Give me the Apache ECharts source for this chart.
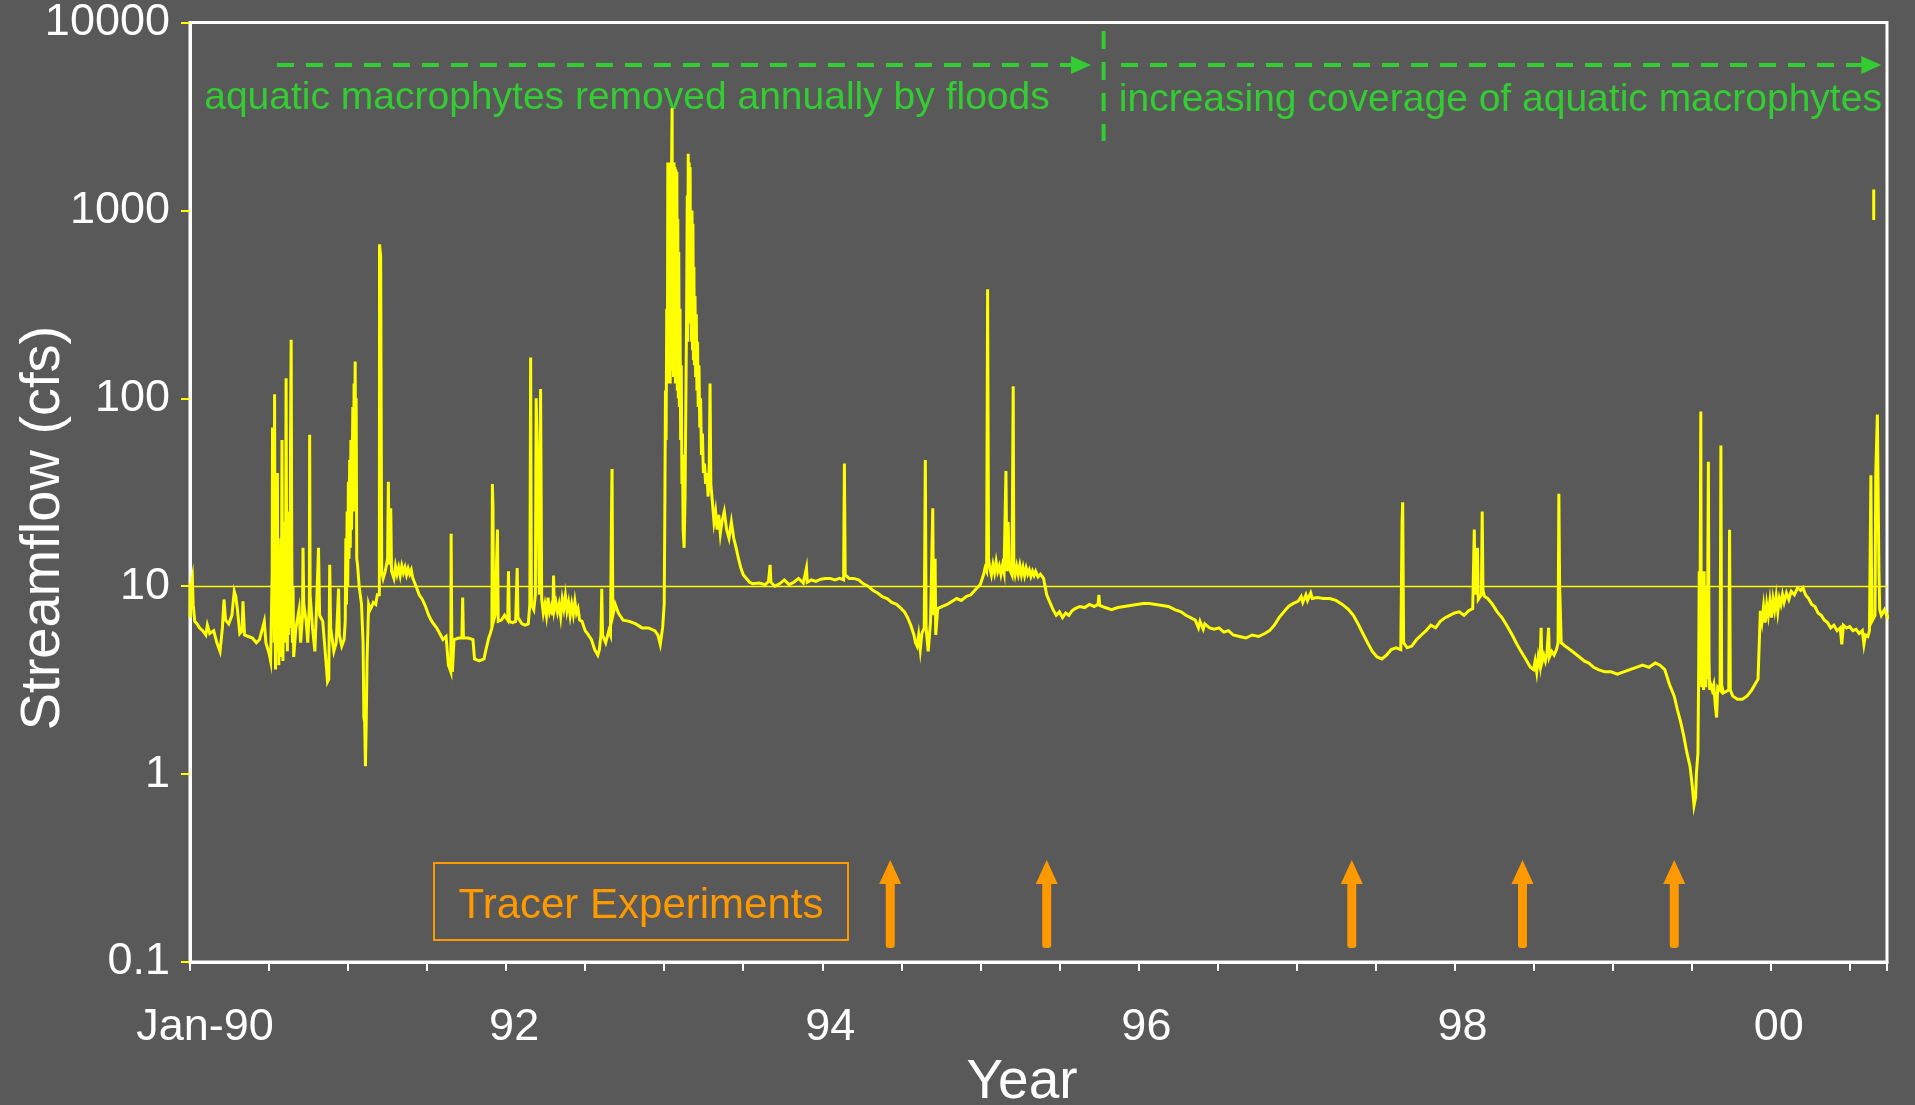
<!DOCTYPE html>
<html>
<head>
<meta charset="utf-8">
<title>Streamflow 1990-2000</title>
<script src="https://cdn.jsdelivr.net/npm/echarts@6/dist/echarts.min.js"></script>
<style>
  html, body { margin: 0; padding: 0; background: #595959; }
  #chart { width: 1915px; height: 1105px; }
</style>
</head>
<body>
<div id="chart"></div>
<script>
// Daily streamflow (cfs) as [decimal year, value]
const streamflow = [
  [1990.000, 6.8], [1990.003, 10.2], [1990.010, 10.5], [1990.015, 11.1], [1990.020, 8.0], [1990.030, 6.5],
  [1990.045, 6.3], [1990.060, 6.0], [1990.080, 5.8], [1990.100, 5.5], [1990.110, 6.2], [1990.125, 5.6],
  [1990.150, 5.8], [1990.170, 5.0], [1990.190, 4.5], [1990.200, 4.4], [1990.205, 6.0], [1990.215, 8.5],
  [1990.225, 6.6], [1990.245, 6.3], [1990.265, 7.0], [1990.280, 9.4], [1990.290, 8.8], [1990.300, 7.5],
  [1990.315, 5.6], [1990.330, 5.8], [1990.335, 8.3], [1990.345, 5.5], [1990.370, 5.4], [1990.395, 5.3],
  [1990.420, 5.0], [1990.440, 5.2], [1990.470, 6.5], [1990.480, 5.0], [1990.500, 4.4], [1990.510, 4.0],
  [1990.515, 4.0], [1990.520, 12], [1990.522, 70], [1990.525, 6], [1990.528, 15], [1990.530, 40],
  [1990.533, 5], [1990.535, 105], [1990.538, 8], [1990.541, 3.6], [1990.544, 14], [1990.547, 4.5],
  [1990.550, 20], [1990.553, 40], [1990.556, 5], [1990.559, 13], [1990.562, 3.8], [1990.566, 16],
  [1990.570, 4.2], [1990.574, 18], [1990.578, 5], [1990.582, 60], [1990.585, 8], [1990.588, 4.0],
  [1990.592, 15], [1990.596, 5.0], [1990.600, 22], [1990.604, 6], [1990.608, 128], [1990.612, 9],
  [1990.616, 4.5], [1990.620, 17], [1990.624, 5.5], [1990.628, 25], [1990.632, 6], [1990.636, 60],
  [1990.640, 205], [1990.644, 14], [1990.648, 5], [1990.652, 10], [1990.656, 4.2], [1990.670, 6.0],
  [1990.690, 7.5], [1990.700, 5.0], [1990.712, 7.0], [1990.715, 16], [1990.720, 8.0], [1990.735, 6.5],
  [1990.745, 5.0], [1990.755, 8], [1990.757, 64], [1990.760, 9], [1990.775, 6.0], [1990.790, 4.5],
  [1990.800, 7.5], [1990.813, 16], [1990.820, 7], [1990.840, 6.5], [1990.860, 4.0], [1990.870, 3.1],
  [1990.878, 3.2], [1990.884, 13], [1990.890, 6], [1990.910, 4.5], [1990.925, 5.0], [1990.940, 9.7],
  [1990.945, 5.5], [1990.960, 4.8], [1990.975, 5.2], [1990.982, 6.5], [1990.986, 18], [1990.990, 8],
  [1990.994, 25], [1990.998, 10], [1991.002, 36], [1991.006, 14], [1991.010, 47], [1991.014, 16],
  [1991.018, 60], [1991.022, 20], [1991.026, 40], [1991.030, 90], [1991.034, 25], [1991.038, 120],
  [1991.042, 50], [1991.045, 157], [1991.048, 30], [1991.051, 100], [1991.055, 14], [1991.060, 13],
  [1991.070, 10], [1991.085, 8], [1991.095, 5.0], [1991.100, 2.0], [1991.105, 1.9], [1991.110, 1.1],
  [1991.115, 1.9], [1991.120, 4.0], [1991.130, 8], [1991.140, 7.5], [1991.150, 7.8], [1991.160, 8.2],
  [1991.175, 8.0], [1991.185, 9.0], [1991.198, 9], [1991.199, 660], [1991.205, 660], [1991.206, 570],
  [1991.212, 570], [1991.213, 12], [1991.222, 11], [1991.235, 12], [1991.250, 14], [1991.255, 36],
  [1991.260, 13], [1991.270, 26], [1991.275, 12], [1991.290, 11], [1991.300, 12.8], [1991.310, 11.6],
  [1991.320, 12.6], [1991.330, 11.4], [1991.340, 12.8], [1991.350, 11.8], [1991.360, 12.6], [1991.370, 11.5],
  [1991.380, 12.4], [1991.390, 11.6], [1991.400, 12.2], [1991.410, 11.0], [1991.430, 10], [1991.450, 9],
  [1991.470, 8.5], [1991.490, 7.8], [1991.510, 7.0], [1991.530, 6.5], [1991.560, 6.0], [1991.580, 5.6],
  [1991.600, 5.2], [1991.620, 5.4], [1991.635, 3.8], [1991.645, 3.6], [1991.650, 3.5], [1991.652, 19],
  [1991.656, 5.5], [1991.660, 3.5], [1991.670, 5.2], [1991.700, 5.3], [1991.720, 5.3], [1991.725, 8.7],
  [1991.730, 5.3], [1991.760, 5.3], [1991.790, 5.2], [1991.800, 4.1], [1991.830, 4.0], [1991.860, 4.1],
  [1991.870, 4.5], [1991.890, 5.3], [1991.900, 5.6], [1991.910, 6.0], [1991.913, 35], [1991.917, 26],
  [1991.920, 6.5], [1991.930, 7.0], [1991.945, 20], [1991.950, 6.5], [1991.970, 6.6], [1991.990, 7.0],
  [1992.000, 7.0], [1992.010, 6.6], [1992.015, 12], [1992.020, 6.5], [1992.040, 6.4], [1992.060, 6.5],
  [1992.070, 12.5], [1992.075, 6.8], [1992.100, 6.3], [1992.120, 6.2], [1992.140, 6.3], [1992.150, 8],
  [1992.155, 165], [1992.160, 8], [1992.175, 7.5], [1992.185, 9], [1992.190, 100], [1992.200, 40],
  [1992.210, 9], [1992.218, 112], [1992.225, 8.5], [1992.235, 7.2], [1992.245, 8.0], [1992.255, 7.0],
  [1992.265, 8.7], [1992.275, 7.3], [1992.285, 7.8], [1992.295, 7.0], [1992.300, 11.4], [1992.305, 7.5],
  [1992.315, 8.2], [1992.325, 7.3], [1992.335, 8.0], [1992.345, 6.9], [1992.355, 8.5], [1992.365, 7.6],
  [1992.375, 8.9], [1992.385, 7.4], [1992.395, 8.2], [1992.405, 7.0], [1992.415, 8.0], [1992.425, 7.1],
  [1992.435, 8.3], [1992.445, 7.2], [1992.455, 7.6], [1992.465, 6.6], [1992.480, 6.5], [1992.500, 5.8],
  [1992.520, 5.5], [1992.540, 5.2], [1992.560, 4.6], [1992.580, 4.3], [1992.590, 4.6], [1992.600, 5.5],
  [1992.605, 9.7], [1992.610, 5.5], [1992.630, 5.0], [1992.650, 5.8], [1992.660, 5.5], [1992.667, 26],
  [1992.670, 42], [1992.675, 7.0], [1992.690, 8.0], [1992.710, 7.2], [1992.740, 6.6], [1992.780, 6.5],
  [1992.820, 6.3], [1992.860, 6.0], [1992.900, 6.0], [1992.940, 5.8], [1992.960, 5.5], [1992.975, 4.9],
  [1992.990, 6], [1993.000, 8], [1993.004, 25], [1993.008, 110], [1993.012, 60], [1993.016, 300],
  [1993.020, 120], [1993.023, 1800], [1993.026, 130], [1993.029, 1700], [1993.032, 150], [1993.035, 1800],
  [1993.038, 120], [1993.041, 1750], [1993.044, 140], [1993.047, 1800], [1993.050, 3500], [1993.053, 160],
  [1993.056, 1700], [1993.059, 130], [1993.062, 1800], [1993.065, 150], [1993.068, 1700], [1993.071, 120],
  [1993.074, 1650], [1993.077, 140], [1993.080, 1600], [1993.083, 110], [1993.086, 900], [1993.089, 100],
  [1993.092, 600], [1993.096, 90], [1993.100, 300], [1993.104, 60], [1993.108, 150], [1993.112, 35],
  [1993.116, 50], [1993.120, 20], [1993.126, 16], [1993.132, 30], [1993.138, 120], [1993.142, 300],
  [1993.146, 1200], [1993.149, 200], [1993.152, 2000], [1993.155, 250], [1993.158, 1800], [1993.161, 300],
  [1993.164, 1700], [1993.167, 250], [1993.170, 1000], [1993.173, 200], [1993.176, 1000], [1993.179, 180],
  [1993.182, 850], [1993.185, 160], [1993.188, 500], [1993.191, 150], [1993.195, 350], [1993.199, 130],
  [1993.203, 280], [1993.207, 110], [1993.211, 200], [1993.215, 90], [1993.220, 150], [1993.225, 70],
  [1993.230, 100], [1993.236, 50], [1993.242, 65], [1993.248, 40], [1993.255, 45], [1993.262, 35],
  [1993.270, 40], [1993.278, 30], [1993.285, 45], [1993.290, 120], [1993.295, 35], [1993.305, 28],
  [1993.315, 22], [1993.325, 25], [1993.335, 20], [1993.345, 24], [1993.355, 19], [1993.365, 22],
  [1993.380, 25], [1993.395, 20], [1993.410, 18], [1993.425, 22], [1993.440, 18], [1993.455, 16],
  [1993.470, 14], [1993.485, 12.5], [1993.500, 11.5], [1993.520, 11], [1993.540, 10.5], [1993.560, 10.3],
  [1993.600, 10.4], [1993.640, 10.2], [1993.660, 10.6], [1993.670, 13], [1993.675, 10.5], [1993.700, 10.0],
  [1993.730, 10.3], [1993.760, 10.8], [1993.790, 10.2], [1993.820, 10.5], [1993.850, 11.0], [1993.880, 10.4],
  [1993.900, 12.5], [1993.905, 10.5], [1993.930, 10.8], [1993.960, 10.6], [1993.990, 10.9], [1994.020, 11.0],
  [1994.050, 11.0], [1994.080, 10.8], [1994.110, 11.0], [1994.135, 10.8], [1994.140, 45], [1994.145, 11.5],
  [1994.170, 11.0], [1994.200, 11.0], [1994.230, 10.8], [1994.260, 10.3], [1994.290, 10.0], [1994.320, 9.5],
  [1994.350, 9.2], [1994.380, 8.8], [1994.410, 8.6], [1994.440, 8.2], [1994.470, 8.0], [1994.500, 7.6],
  [1994.520, 7.3], [1994.540, 6.8], [1994.560, 6.2], [1994.580, 5.5], [1994.590, 5.0], [1994.600, 4.8],
  [1994.610, 5.5], [1994.620, 4.6], [1994.630, 5.6], [1994.645, 6.0], [1994.652, 47], [1994.657, 6.0],
  [1994.670, 4.5], [1994.685, 6.5], [1994.699, 26], [1994.704, 7.0], [1994.714, 14], [1994.718, 5.5],
  [1994.730, 7.6], [1994.760, 7.8], [1994.790, 8.0], [1994.820, 8.3], [1994.850, 8.6], [1994.880, 8.4],
  [1994.910, 8.8], [1994.940, 9.0], [1994.970, 9.6], [1995.000, 10.2], [1995.020, 11.5], [1995.030, 12.5],
  [1995.040, 12.0], [1995.046, 380], [1995.052, 14], [1995.060, 12.5], [1995.070, 11.5], [1995.080, 13.0],
  [1995.090, 11.8], [1995.100, 13.5], [1995.110, 12.0], [1995.120, 12.8], [1995.130, 11.6], [1995.140, 12.9],
  [1995.150, 11.8], [1995.158, 12], [1995.162, 41], [1995.168, 12], [1995.176, 22], [1995.182, 12.5],
  [1995.200, 11.5], [1995.208, 116], [1995.212, 12.5], [1995.220, 11.5], [1995.230, 12.8], [1995.240, 11.6],
  [1995.250, 12.9], [1995.260, 11.5], [1995.270, 12.6], [1995.280, 11.4], [1995.290, 12.5], [1995.300, 11.6],
  [1995.310, 12.2], [1995.320, 11.3], [1995.330, 12.0], [1995.340, 11.4], [1995.350, 12.0], [1995.365, 11.2],
  [1995.380, 11.6], [1995.400, 11.0], [1995.420, 9.0], [1995.440, 8.2], [1995.460, 7.5], [1995.480, 7.0],
  [1995.500, 7.3], [1995.520, 6.8], [1995.540, 7.2], [1995.560, 7.0], [1995.580, 7.4], [1995.600, 7.6],
  [1995.630, 7.8], [1995.660, 7.7], [1995.690, 8.0], [1995.720, 7.8], [1995.745, 8.0], [1995.750, 9.0],
  [1995.755, 7.9], [1995.790, 7.7], [1995.830, 7.5], [1995.870, 7.7], [1995.910, 7.8], [1995.950, 7.9],
  [1995.990, 8.0], [1996.030, 8.1], [1996.070, 8.1], [1996.110, 8.0], [1996.150, 7.9], [1996.190, 7.8],
  [1996.230, 7.5], [1996.270, 7.3], [1996.300, 7.0], [1996.330, 6.8], [1996.360, 6.6], [1996.380, 6.0],
  [1996.390, 6.5], [1996.410, 5.9], [1996.420, 6.3], [1996.450, 6.0], [1996.480, 5.9], [1996.510, 6.0],
  [1996.540, 5.7], [1996.570, 5.8], [1996.600, 5.5], [1996.640, 5.4], [1996.680, 5.3], [1996.720, 5.5],
  [1996.760, 5.4], [1996.800, 5.6], [1996.830, 5.8], [1996.860, 6.2], [1996.890, 6.8], [1996.920, 7.3],
  [1996.950, 7.8], [1996.980, 8.1], [1997.010, 8.3], [1997.030, 8.8], [1997.040, 8.2], [1997.060, 9.0],
  [1997.070, 8.4], [1997.090, 9.2], [1997.100, 8.6], [1997.130, 8.7], [1997.170, 8.6], [1997.210, 8.6],
  [1997.250, 8.4], [1997.290, 8.0], [1997.330, 7.5], [1997.360, 7.0], [1997.390, 6.3], [1997.420, 5.6],
  [1997.450, 5.0], [1997.480, 4.5], [1997.510, 4.2], [1997.540, 4.1], [1997.570, 4.3], [1997.600, 4.6],
  [1997.630, 4.7], [1997.660, 4.6], [1997.668, 22], [1997.672, 28], [1997.678, 5.0], [1997.700, 4.7],
  [1997.730, 4.8], [1997.760, 5.2], [1997.790, 5.5], [1997.820, 5.8], [1997.850, 6.2], [1997.880, 6.0],
  [1997.910, 6.5], [1997.940, 6.8], [1997.970, 7.0], [1998.000, 7.2], [1998.030, 7.3], [1998.060, 7.0],
  [1998.090, 7.4], [1998.115, 7.6], [1998.125, 20], [1998.130, 9], [1998.145, 16], [1998.150, 8.5],
  [1998.170, 9.0], [1998.175, 25], [1998.180, 9.5], [1998.190, 8.8], [1998.210, 8.6], [1998.240, 8.0],
  [1998.270, 7.3], [1998.300, 6.8], [1998.330, 6.2], [1998.360, 5.6], [1998.390, 5.0], [1998.420, 4.5],
  [1998.450, 4.1], [1998.480, 3.7], [1998.500, 3.6], [1998.510, 4.0], [1998.520, 3.5], [1998.530, 4.2],
  [1998.540, 3.8], [1998.548, 6.0], [1998.552, 3.9], [1998.565, 4.3], [1998.575, 4.0], [1998.585, 4.4],
  [1998.595, 6.0], [1998.600, 4.2], [1998.615, 4.5], [1998.630, 4.3], [1998.645, 4.6], [1998.655, 5.0],
  [1998.660, 31], [1998.665, 10], [1998.675, 5.0], [1998.700, 4.8], [1998.730, 4.6], [1998.760, 4.4],
  [1998.790, 4.2], [1998.820, 4.0], [1998.850, 3.9], [1998.880, 3.7], [1998.910, 3.6], [1998.950, 3.5],
  [1998.990, 3.5], [1999.030, 3.4], [1999.070, 3.5], [1999.110, 3.6], [1999.150, 3.7], [1999.190, 3.8],
  [1999.230, 3.7], [1999.270, 3.9], [1999.300, 3.8], [1999.330, 3.6], [1999.360, 3.0], [1999.390, 2.6],
  [1999.410, 2.2], [1999.430, 1.9], [1999.450, 1.6], [1999.470, 1.3], [1999.490, 1.1], [1999.505, 0.85],
  [1999.515, 0.68], [1999.525, 0.75], [1999.530, 1.0], [1999.540, 1.3], [1999.545, 4.0], [1999.548, 12],
  [1999.551, 3.0], [1999.554, 10], [1999.558, 85], [1999.561, 6], [1999.564, 2.9], [1999.567, 11],
  [1999.570, 3.2], [1999.573, 9], [1999.576, 2.8], [1999.579, 12], [1999.582, 3.0], [1999.586, 8],
  [1999.590, 2.9], [1999.594, 10], [1999.598, 3.2], [1999.602, 11], [1999.606, 46], [1999.610, 4],
  [1999.614, 2.8], [1999.620, 3.0], [1999.630, 2.8], [1999.640, 3.0], [1999.650, 2.3], [1999.658, 2.0],
  [1999.665, 2.9], [1999.680, 2.8], [1999.685, 56], [1999.690, 3.0], [1999.700, 2.7], [1999.735, 2.8],
  [1999.740, 20], [1999.745, 2.8], [1999.760, 2.6], [1999.790, 2.5], [1999.820, 2.5], [1999.850, 2.6],
  [1999.880, 2.8], [1999.900, 3.0], [1999.920, 3.2], [1999.935, 7.4], [1999.945, 6.5], [1999.955, 7.8],
  [1999.965, 6.4], [1999.975, 8.0], [1999.985, 7.0], [1999.995, 8.3], [2000.005, 6.8], [2000.015, 8.5],
  [2000.025, 7.5], [2000.035, 8.8], [2000.045, 7.3], [2000.055, 8.6], [2000.065, 8.0], [2000.075, 9.0],
  [2000.085, 8.2], [2000.100, 9.2], [2000.115, 8.5], [2000.130, 9.4], [2000.150, 9.0], [2000.170, 9.8],
  [2000.190, 9.5], [2000.205, 9.8], [2000.220, 9.0], [2000.240, 8.6], [2000.260, 8.0], [2000.280, 7.8],
  [2000.300, 7.2], [2000.320, 7.0], [2000.340, 6.6], [2000.360, 6.4], [2000.380, 6.0], [2000.400, 6.2],
  [2000.420, 5.8], [2000.440, 6.0], [2000.450, 4.9], [2000.460, 6.2], [2000.480, 6.0], [2000.500, 6.1],
  [2000.520, 5.8], [2000.540, 5.9], [2000.560, 5.6], [2000.580, 5.8], [2000.590, 4.9], [2000.600, 5.5],
  [2000.615, 5.4], [2000.625, 5.8], [2000.634, 39], [2000.640, 6.5], [2000.660, 7.0], [2000.665, 40],
  [2000.675, 82], [2000.685, 12], [2000.690, 7.5], [2000.700, 7.0], [2000.720, 7.5], [2000.740, 6.8],
  [2000.770, 7.0]
];

// Short stretch of record plotted on its own, detached from the main trace
const streamflowFragment = [[2000.652, 890], [2000.652, 1290]];

// Dates of the tracer experiments (decimal year)
const tracerDates = [1994.43, 1995.42, 1997.35, 1998.43, 1999.39];

// Axis labels
const yTickLabels = ['0.1', '1', '10', '100', '1000', '10000'];
const xTickLabels = { 1990: 'Jan-90', 1992: '92', 1994: '94', 1996: '96', 1998: '98', 2000: '00' };

// Habitat periods shown along the top of the plot
const periodBoundary = 1995.78;
const periods = [
  { label: 'aquatic macrophytes removed annually by floods', start: 1990.55, end: 1995.70, textStart: 1990.09 },
  { label: 'increasing coverage of aquatic macrophytes', start: 1995.89, end: 2000.70, textStart: 1995.876 }
];

const FONT = '"Liberation Sans", Arial, Helvetica, sans-serif';
const WHITE = '#ffffff';
const YELLOW = '#ffff00';
const ORANGE = '#ff9900';
const GREEN = '#33cc33';

const chart = echarts.init(document.getElementById('chart'));

// Upward arrow standing on the time axis at each experiment date
function arrowItem(params, api) {
  const date = api.value(0);
  const base = api.coord([date, 0.1]);
  const x = base[0];
  const yBottom = base[1] - 14;
  const yTip = base[1] - 102;
  const headH = 24, headHalf = 11, shaftHalf = 4.5;
  return {
    type: 'group',
    children: [
      { type: 'rect', shape: { x: x - shaftHalf, y: yTip + headH - 2, width: shaftHalf * 2, height: yBottom - (yTip + headH - 2), r: 3 },
        style: { fill: ORANGE } },
      { type: 'polygon', shape: { points: [[x, yTip], [x - headHalf, yTip + headH], [x + headHalf, yTip + headH]] },
        style: { fill: ORANGE } }
    ]
  };
}

chart.setOption({
  backgroundColor: '#595959',
  animation: false,
  grid: {
    left: 190, right: 28, top: 22, bottom: 143,
    show: true, borderColor: WHITE, borderWidth: 3, backgroundColor: 'transparent'
  },
  xAxis: {
    type: 'value',
    min: 1990, max: 2000.736, interval: 0.5,
    axisLine: { show: true, onZero: false, lineStyle: { color: WHITE, width: 3 } },
    axisTick: { show: true, length: 9, lineStyle: { color: WHITE, width: 2 } },
    splitLine: { show: false },
    axisLabel: {
      interval: 0, margin: 43, color: WHITE, fontFamily: FONT, fontSize: 45,
      showMinLabel: true, showMaxLabel: true,
      formatter: function (v) {
        const y = Math.round(v * 2) / 2;
        if (Math.abs(v - y) > 1e-6 || !(y in xTickLabels)) return '';
        return y === 1990 ? '{first|' + xTickLabels[y] + '}' : '{yr|' + xTickLabels[y] + '}';
      },
      rich: {
        first: { fontFamily: FONT, fontSize: 45, color: WHITE, padding: [0, 0, 0, 30] },
        yr: { fontFamily: FONT, fontSize: 45, color: WHITE, padding: [0, 0, 0, 16] }
      }
    }
  },
  yAxis: {
    type: 'log', logBase: 10, min: 0.1, max: 10000,
    axisLine: { show: true, lineStyle: { color: WHITE, width: 3 } },
    axisTick: { show: true, length: 9, lineStyle: { color: YELLOW, width: 2 } },
    splitLine: { show: false },
    minorTick: { show: false },
    axisLabel: {
      margin: 20, color: WHITE, fontFamily: FONT, fontSize: 45,
      formatter: function (v) {
        const i = Math.round(Math.log10(v)) + 1;
        return yTickLabels[i] !== undefined ? yTickLabels[i] : '';
      }
    }
  },
  series: [
    {
      name: 'Streamflow',
      type: 'line',
      data: streamflow,
      showSymbol: false,
      symbol: 'none',
      sampling: null,
      lineStyle: { color: YELLOW, width: 3, join: 'miter' },
      itemStyle: { color: YELLOW },
      markLine: {
        silent: true,
        symbol: 'none',
        label: { show: false },
        lineStyle: { color: YELLOW, width: 1.3, type: 'solid' },
        data: [{ yAxis: 10 }]
      },
      z: 3
    },
    {
      name: 'Streamflow fragment',
      type: 'line',
      data: streamflowFragment,
      showSymbol: false,
      symbol: 'none',
      lineStyle: { color: YELLOW, width: 3 },
      z: 3
    },
    {
      name: 'Tracer Experiments',
      type: 'custom',
      renderItem: arrowItem,
      data: tracerDates.map(function (d) { return [d, 0.2]; }),
      encode: { x: 0, y: 1 },
      z: 4
    }
  ]
});

// Period annotations and the tracer key, placed from the axis scale
function px(year) { return chart.convertToPixel({ gridIndex: 0 }, [year, 1])[0]; }

const ANNOT_Y = 65;
const graphics = [];
periods.forEach(function (p, i) {
  const x0 = px(p.start), x1 = px(p.end);
  graphics.push({
    type: 'line', shape: { x1: x0, y1: ANNOT_Y, x2: x1 - 18, y2: ANNOT_Y },
    style: { stroke: GREEN, lineWidth: 4, lineDash: [17, 12] }
  });
  graphics.push({
    type: 'polygon', shape: { points: [[x1, ANNOT_Y], [x1 - 20, ANNOT_Y - 9], [x1 - 20, ANNOT_Y + 9]] },
    style: { fill: GREEN }
  });
  graphics.push({
    type: 'text', x: px(p.textStart), y: i === 0 ? 98 : 100,
    style: { text: p.label, fill: GREEN, font: '39px ' + FONT, textAlign: 'left', textVerticalAlign: 'middle' }
  });
});
const xb = px(periodBoundary);
graphics.push({
  type: 'line', shape: { x1: xb, y1: 31, x2: xb, y2: 141 },
  style: { stroke: GREEN, lineWidth: 4, lineDash: [18, 13] }
});

// Key for the tracer arrows
graphics.push({
  type: 'rect', shape: { x: 434, y: 863, width: 414, height: 77 },
  style: { fill: 'none', stroke: ORANGE, lineWidth: 2 }
});
graphics.push({
  type: 'text', x: 641, y: 906,
  style: { text: 'Tracer Experiments', fill: ORANGE, font: '42px ' + FONT, textAlign: 'center', textVerticalAlign: 'middle' }
});

// Axis titles
graphics.push({
  type: 'text', x: 44, y: 528, rotation: Math.PI / 2,
  style: { text: 'Streamflow (cfs)', fill: WHITE, font: '56px ' + FONT, textAlign: 'center', textVerticalAlign: 'middle' }
});
graphics.push({
  type: 'text', x: 1022, y: 1083,
  style: { text: 'Year', fill: WHITE, font: '55px ' + FONT, textAlign: 'center', textVerticalAlign: 'middle' }
});

chart.setOption({ graphic: graphics });
</script>
</body>
</html>
